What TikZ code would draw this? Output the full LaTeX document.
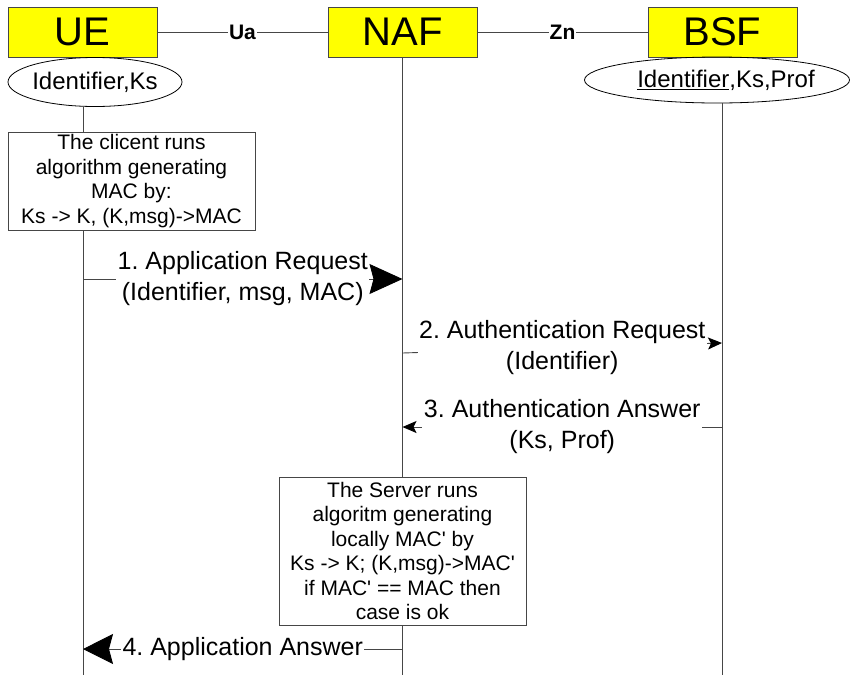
\documentclass[tikz,border=0pt]{standalone}
\usepackage{fontspec}
\setmainfont{Liberation Sans}[Ligatures=TeXOff]
\usetikzlibrary{arrows.meta,shapes.geometric}
\definecolor{ln}{RGB}{70,70,70}
\definecolor{yel}{RGB}{255,255,0}
\frenchspacing
\begin{document}
\begin{tikzpicture}[x=1pt,y=-1pt,
  ent/.style={draw=ln, line width=1pt, fill=yel, minimum width=149pt, minimum height=50pt, inner sep=0pt, font=\fontsize{40}{40}\selectfont},
  ell/.style={draw=black, line width=0.8pt, ellipse, inner sep=0pt, font=\fontsize{24}{28}\selectfont},
  proc/.style={draw=ln, line width=0.8pt, fill=white, minimum width=247pt, inner sep=0pt, align=center, font=\fontsize{21}{24.5}\selectfont},
  life/.style={draw=ln, line width=0.9pt},
  iline/.style={draw=ln, line width=0.7pt},
  msg/.style={fill=white, inner sep=1.5pt, align=center, font=\fontsize{25}{31}\selectfont},
  iface/.style={fill=white, inner sep=1pt, font=\bfseries\fontsize{21}{21}\selectfont},
  bigarr/.style={-{Stealth[length=33pt,width=30pt,inset=4pt,color=black]}},
  smallarr/.style={-{Stealth[length=14pt,width=12pt,inset=3pt,color=black]}},
]
\useasboundingbox (0,0) rectangle (850,675);

% entities
\node[ent] (ue) at (82.5,32) {UE};
\node[ent] (naf) at (402.5,32) {NAF};
\node[ent] (bsf) at (722.5,32) {BSF};

\draw[iline] (ue.east) -- node[iface] (ua) {Ua} (naf.west);
\draw[iline] (naf.east) -- node[iface] (zn) {Zn} (bsf.west);

% key ellipses
\node[ell, minimum width=174pt, minimum height=49pt] (uek) at (95,82) {\makebox[100pt][c]{Identifier,Ks}};
\node[ell, minimum width=265pt, minimum height=46pt] (bsfk) at (717,80) {\makebox[150pt][c]{\hspace{18pt}\underline{Identifier},Ks,Prof}};

% processing boxes
\node[proc, minimum height=98pt] (cbox) at (131.5,181) {The clicent runs\\algorithm generating\\MAC by:\\Ks -> K, (K,msg)->MAC};
\node[proc, minimum height=148pt] (sbox) at (402.5,551) {The Server runs\\algoritm generating\\locally MAC' by\\Ks -> K; (K,msg)->MAC'\\if MAC' == MAC then\\case is ok};

% lifeline ends
\coordinate (ueB) at (83,675);
\coordinate (nafB) at (402.5,675);
\coordinate (bsfB) at (722,675);

\draw[life] (ueB |- uek.south) -- (ueB |- cbox.north);
\draw[life] (ueB |- cbox.south) -- (ueB);
\draw[life] (naf.south) -- (sbox.north);
\draw[life] (sbox.south) -- (nafB);
\draw[life] (bsfB |- bsfk.south) -- (bsfB);

% messages
\coordinate (m1a) at (83,279);
\coordinate (m1b) at (402.5,279);
\draw[life, bigarr] (m1a) -- node[msg] (l1) {1. Application Request\\(Identifier, msg, MAC)} (m1b);

\coordinate (m2a) at (402.5,353);
\coordinate (m2b) at (722,343);
\draw[life, smallarr] (m2a) -- node[msg] (l2) {2. Authentication Request\\(Identifier)} (m2b);

\coordinate (m3a) at (722,427);
\coordinate (m3b) at (402.5,427);
\draw[life, smallarr] (m3a) -- node[msg] (l3) {3. Authentication Answer\\(Ks, Prof)} (m3b);

\coordinate (m4a) at (402.5,649);
\coordinate (m4b) at (83,649);
\draw[life, -{Stealth[length=30pt,width=30pt,inset=4pt,color=black]}] (m4a) -- node[msg] (l4) {4. Application Answer} (m4b);
\end{tikzpicture}
\end{document}
